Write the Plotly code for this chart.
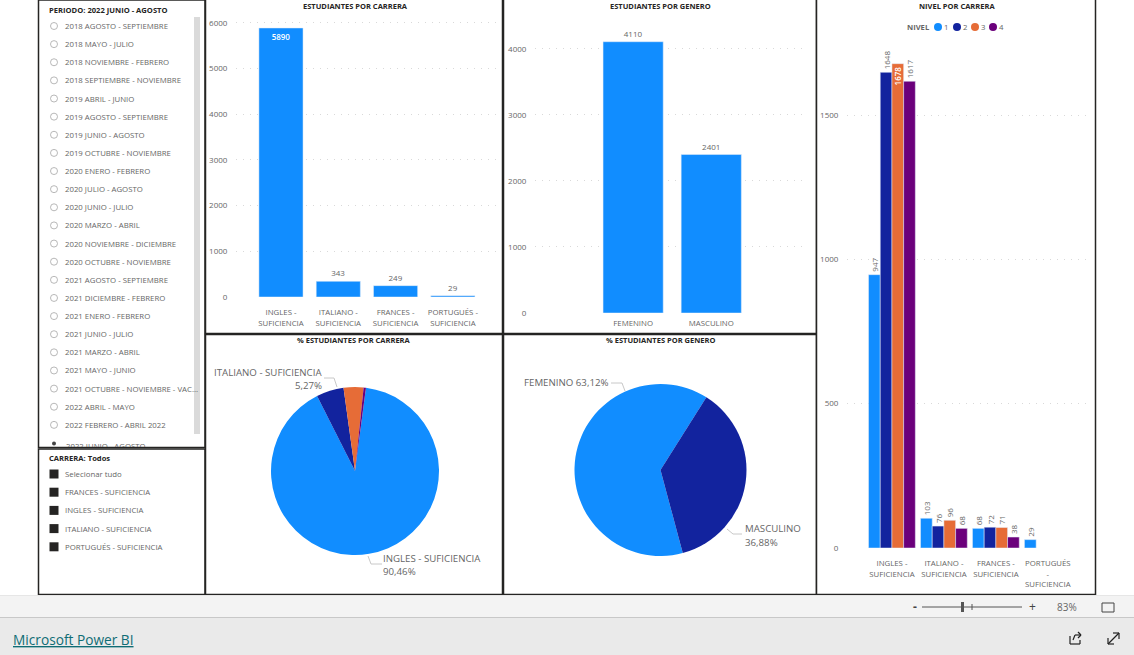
import plotly.graph_objects as go

W, H = 1134, 655
FONT = "Open Sans"
BLUE, NAVY, ORANGE, PURPLE = "#118DFF", "#12239E", "#E66C37", "#6B007B"
GREY = "#666666"
DARK = "#252423"

periodos = [
    "2018 AGOSTO - SEPTIEMBRE", "2018 MAYO - JULIO", "2018 NOVIEMBRE - FEBRERO",
    "2018 SEPTIEMBRE - NOVIEMBRE", "2019 ABRIL - JUNIO", "2019 AGOSTO - SEPTIEMBRE",
    "2019 JUNIO - AGOSTO", "2019 OCTUBRE - NOVIEMBRE", "2020 ENERO - FEBRERO",
    "2020 JULIO - AGOSTO", "2020 JUNIO - JULIO", "2020 MARZO - ABRIL",
    "2020 NOVIEMBRE - DICIEMBRE", "2020 OCTUBRE - NOVIEMBRE", "2021 AGOSTO - SEPTIEMBRE",
    "2021 DICIEMBRE - FEBRERO", "2021 ENERO - FEBRERO", "2021 JUNIO - JULIO",
    "2021 MARZO - ABRIL", "2021 MAYO - JUNIO", "2021 OCTUBRE - NOVIEMBRE - VAC...",
    "2022 ABRIL - MAYO", "2022 FEBRERO - ABRIL 2022",
]
periodo_clipped = "2022 JUNIO - AGOSTO"
carreras_filtro = ["Selecionar tudo", "FRANCES - SUFICIENCIA", "INGLES - SUFICIENCIA",
                   "ITALIANO - SUFICIENCIA", "PORTUGUÉS - SUFICIENCIA"]

carreras = ["INGLES -<br>SUFICIENCIA", "ITALIANO -<br>SUFICIENCIA",
            "FRANCES -<br>SUFICIENCIA", "PORTUGUÉS -<br>SUFICIENCIA"]
estudiantes = [5890, 343, 249, 29]
generos = ["FEMENINO", "MASCULINO"]
por_genero = [4110, 2401]
carreras_nivel = ["INGLES -<br>SUFICIENCIA", "ITALIANO -<br>SUFICIENCIA",
                  "FRANCES -<br>SUFICIENCIA", "PORTUGUÉS<br>-<br>SUFICIENCIA"]
nivel_1 = [947, 103, 68, 29]
nivel_2 = [1648, 76, 72, None]
nivel_3 = [1678, 96, 71, None]
nivel_4 = [1617, 68, 38, None]
pie_carreras = ["INGLES - SUFICIENCIA", "ITALIANO - SUFICIENCIA", "FRANCES - SUFICIENCIA", "PORTUGUÉS - SUFICIENCIA"]


def dx(l, r):
    return [l / W, r / W]


def dy(top, bottom):
    return [1 - bottom / H, 1 - top / H]


fig = go.Figure()
shapes, ann = [], []


def rect(x0, y0, x1, y1, fill=None, line=None, lw=1, layer="below"):
    shapes.append(dict(type="rect", xref="paper", yref="paper", x0=x0 / W, x1=x1 / W,
                       y0=1 - y0 / H, y1=1 - y1 / H, fillcolor=fill or "rgba(0,0,0,0)",
                       line=dict(color=line or "rgba(0,0,0,0)", width=lw if line else 0), layer=layer))


def circle(cx, cy, r, fill=None, line=None):
    shapes.append(dict(type="circle", xref="paper", yref="paper", x0=(cx - r) / W, x1=(cx + r) / W,
                       y0=1 - (cy + r) / H, y1=1 - (cy - r) / H, fillcolor=fill or "rgba(0,0,0,0)",
                       line=dict(color=line or "rgba(0,0,0,0)", width=0.8 if line else 0), layer="below"))


def seg(pts, color="#C8C8C8", lw=1):
    for (a, b), (c, d) in zip(pts, pts[1:]):
        shapes.append(dict(type="line", xref="paper", yref="paper", x0=a / W, x1=c / W,
                           y0=1 - b / H, y1=1 - d / H, line=dict(color=color, width=lw), layer="above"))


def text(x, y, s, size=8, color=GREY, anchor="left", bold=False, **kw):
    ann.append(dict(xref="paper", yref="paper", x=x / W, y=1 - y / H, text=f"<b>{s}</b>" if bold else s,
                    showarrow=False, xanchor=anchor, yanchor="middle",
                    font=dict(family=FONT, size=size, color=color), borderpad=0, borderwidth=0, **kw))


# page chrome
rect(0, 595, W, 618, fill="#F3F3F3")
rect(0, 618, W, H, fill="#EAEAEA")
seg([(0, 617.5), (W, 617.5)], "#C8C8C8", 1)
seg([(0, 595.5), (W, 595.5)], "#E6E6E6", 1)

# panels
for p in [(38.5, 0, 205, 447.5), (38.5, 449, 205, 594.5), (205.5, -1, 502.5, 333.5), (205.5, 334.5, 502.5, 594.5),
          (503.5, -1, 816.5, 333.5), (503.5, 334.5, 816.5, 594.5), (816.5, -1, 1095.5, 594.5)]:
    rect(*p, fill="white", line="#252423", lw=1.5)

# period slicer
text(49, 10, "PERIODO: 2022 JUNIO - AGOSTO", 7.6, DARK, bold=True)
rect(194, 17, 200, 434, fill="#DADADA")
for i, p in enumerate(periodos):
    y = 26 + i * 18.13
    circle(54, y, 3.5, line="#A6A6A6")
    text(65, y, p, 7.8)
ann.append(dict(xref="paper", yref="paper", x=65 / W, y=1 - 439.5 / H, text=periodo_clipped, showarrow=False,
                xanchor="left", yanchor="top", align="left", valign="top", height=6, borderpad=0,
                font=dict(family=FONT, size=7.8, color=GREY)))
circle(54, 443.5, 2, fill="#444444")

# career slicer
text(49, 458, "CARRERA: Todos", 7.6, DARK, bold=True)
for i, c in enumerate(carreras_filtro):
    y = 474 + i * 18.2
    rect(49.5, y - 4.5, 58.5, y + 4.5, fill="#252423")
    text(65, y, c, 7.8)

# titles
for x, y, t in [(355, 6, "ESTUDIANTES POR CARRERA"), (660, 6, "ESTUDIANTES POR GENERO"), (957, 6, "NIVEL POR CARRERA"),
                (354, 340, "% ESTUDIANTES POR CARRERA"), (660, 340, "% ESTUDIANTES POR GENERO")]:
    text(x, y, t, 7.5, DARK, "center", True)

# legend of the level chart
text(907, 27, "NIVEL", 7.6, GREY, bold=True)
for cx, lab, col in [(938, "1", BLUE), (957, "2", NAVY), (975, "3", ORANGE), (993, "4", PURPLE)]:
    circle(cx, 27, 4, fill=col)
    text(cx + 6, 27, lab, 7.8)


def yaxis(dom, rng, ticks, anchor):
    return dict(domain=dom, range=rng, tickvals=ticks, ticks="outside", ticklen=6, tickcolor="rgba(0,0,0,0)",
                tickfont=dict(family=FONT, size=8, color=GREY), showgrid=True, gridcolor="#D9D9D9",
                griddash="1px,6px", gridwidth=1, zeroline=False, showline=False, anchor=anchor)


def xaxis(dom, rng, standoff, anchor):
    return dict(domain=dom, range=rng, type="category", ticks="outside", ticklen=standoff, tickcolor="rgba(0,0,0,0)",
                tickfont=dict(family=FONT, size=7.8, color=GREY), showgrid=False, zeroline=False, showline=False,
                anchor=anchor, tickangle=0)


# bars
fig.add_bar(x=carreras, y=estudiantes, xaxis="x", yaxis="y", marker_color=BLUE, showlegend=False,
            text=estudiantes, textposition=["inside", "outside", "outside", "outside"], insidetextanchor="end",
            textangle=0, constraintext="none", cliponaxis=False, width=0.77,
            insidetextfont=dict(family=FONT, size=8, color="white", weight=600),
            outsidetextfont=dict(family=FONT, size=8, color=GREY))
fig.add_bar(x=generos, y=por_genero, xaxis="x2", yaxis="y2", marker_color=BLUE, showlegend=False,
            text=por_genero, textposition="outside", textangle=0, constraintext="none", cliponaxis=False, width=0.77,
            outsidetextfont=dict(family=FONT, size=8, color=GREY))
for serie, col, name in [(nivel_1, BLUE, "1"), (nivel_2, NAVY, "2"), (nivel_3, ORANGE, "3"), (nivel_4, PURPLE, "4")]:
    pos = ["inside" if v == 1678 else "outside" for v in serie]
    fig.add_bar(x=carreras_nivel, y=serie, xaxis="x3", yaxis="y3", marker_color=col, name=name, showlegend=False,
                offsetgroup=name, text=serie, textposition=pos, textangle=-90, constraintext="none", cliponaxis=False,
                insidetextanchor="end", insidetextfont=dict(family=FONT, size=8, color="white", weight=600),
                outsidetextfont=dict(family=FONT, size=8, color=GREY))

# pies
fig.add_pie(labels=pie_carreras, values=estudiantes, sort=False, direction="clockwise", rotation=7.5,
            marker=dict(colors=[BLUE, NAVY, ORANGE, PURPLE], line=dict(width=0)), textinfo="none",
            domain=dict(x=dx(271, 439), y=dy(387, 555)), showlegend=False)
fig.add_pie(labels=generos, values=por_genero, sort=False, direction="clockwise", rotation=165,
            marker=dict(colors=[BLUE, NAVY], line=dict(width=0)), textinfo="none",
            domain=dict(x=dx(574.5, 746.5), y=dy(384, 556)), showlegend=False)

# pie labels
text(322, 372, "ITALIANO - SUFICIENCIA", 9.7, GREY, "right")
text(322, 385, "5,27%", 9.7, GREY, "right")
seg([(324, 378), (334, 378), (337, 387)])
text(383, 558, "INGLES - SUFICIENCIA", 9.7, GREY)
text(383, 571, "90,46%", 9.7, GREY)
seg([(368, 556), (371, 564), (382, 564)])
text(524, 383, "FEMENINO 63,12%", 9.7, GREY)
seg([(611, 383), (622, 383), (625, 391)])
text(745, 528, "MASCULINO", 9.7, GREY)
text(745, 542, "36,88%", 9.7, GREY)
seg([(727, 529), (733, 534), (742, 534)])

# bottom bar
seg([(922, 607), (1022, 607)], "#555555", 1)
seg([(972, 604), (972, 610)], "#555555", 1)
rect(961, 602, 964, 612, fill="#555555", layer="above")
text(915, 606, "-", 12, "#444444", "center", True)
text(1032, 606, "+", 12, "#444444", "center")
text(1067, 607, "83%", 10, GREY, "center")
rect(1102, 603, 1114, 612, line="#444444", lw=1, layer="above")
text(13, 639, "<u>Microsoft Power BI</u>", 13.7, "#0F6D75")
seg([(1070, 636), (1070, 644), (1080, 644), (1080, 640)], "#222222", 1.2)
seg([(1073, 640), (1075, 635), (1081, 635)], "#222222", 1.2)
seg([(1078, 632), (1081, 635), (1078, 638)], "#222222", 1.2)
seg([(1108, 644), (1119, 633)], "#222222", 1.2)
seg([(1113, 633), (1119, 633), (1119, 639)], "#222222", 1.2)
seg([(1108, 638), (1108, 644), (1114, 644)], "#222222", 1.2)

fig.update_layout(
    width=W, height=660, margin=dict(l=0, r=0, t=0, b=0), paper_bgcolor="white", plot_bgcolor="rgba(0,0,0,0)",
    barmode="group", bargap=0.1, bargroupgap=0, shapes=shapes, annotations=ann,
    font=dict(family=FONT, color=GREY), showlegend=False,
    xaxis=xaxis(dx(236, 497), [-0.785, 3.77], 8, "y"),
    yaxis=yaxis(dy(12, 297), [0, 6240], [0, 1000, 2000, 3000, 4000, 5000, 6000], "x"),
    xaxis2=xaxis(dx(535, 805), [-1.256, 2.2], 3, "y2"),
    yaxis2=yaxis(dy(20, 313), [0, 4439], [0, 1000, 2000, 3000, 4000], "x2"),
    xaxis3=xaxis(dx(847, 1092), [-0.865, 3.85], 8, "y3"),
    yaxis3=yaxis(dy(40, 548), [0, 1760], [0, 500, 1000, 1500], "x3"),
)
fig.write_html("out.html", config=dict(displayModeBar=False),
               post_script="document.body.style.margin='0';document.documentElement.style.overflow='hidden';document.body.style.overflow='hidden';")
